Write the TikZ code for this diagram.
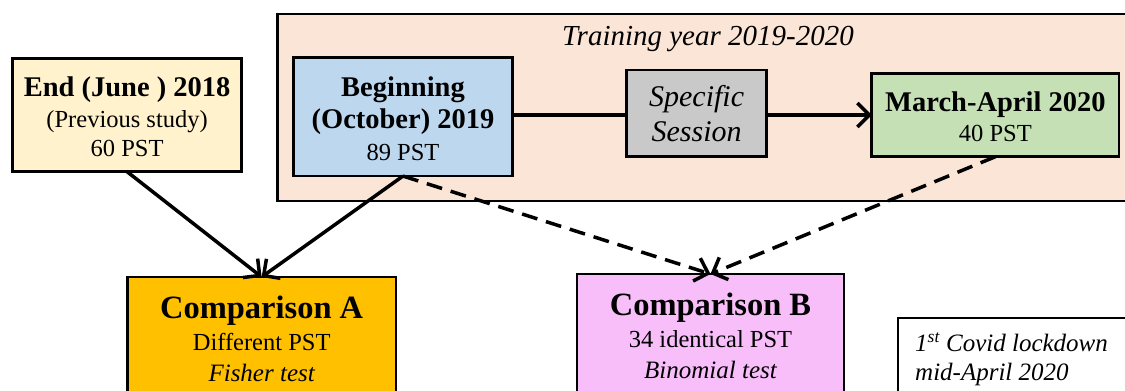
\documentclass[tikz,border=0pt]{standalone}
\usepackage{fontspec}
\setmainfont{Liberation Serif}
\newfontfamily\tms{Liberation Serif}
\usetikzlibrary{arrows.meta}
\definecolor{cyellow}{HTML}{FFF2CC}
\definecolor{cpeach}{HTML}{FBE5D6}
\definecolor{cblue}{HTML}{BDD7EE}
\definecolor{cgrey}{HTML}{C9C9C9}
\definecolor{cgreen}{HTML}{C5E0B4}
\definecolor{corange}{HTML}{FFC000}
\definecolor{cpink}{HTML}{F8BEFA}
\tikzset{
  box/.style={draw=black,line width=2.8pt,inner sep=0pt,outer sep=0pt},
  txt/.style={inner sep=0pt,anchor=base},
  txtl/.style={inner sep=0pt,anchor=base west},
  bt/.style={font=\tms\fontsize{28.5}{30}\selectfont\bfseries},
  rt/.style={font=\tms\fontsize{24.5}{26}\selectfont},
  it/.style={font=\tms\fontsize{25}{27}\selectfont\itshape},
  bigit/.style={font=\tms\fontsize{29}{31}\selectfont\itshape},
  sesit/.style={font=\tms\fontsize{30}{32}\selectfont\itshape},
  ct/.style={font=\tms\fontsize{32.5}{34}\selectfont\bfseries},
  conn/.style={line width=3.5pt,-{Straight Barb[length=12pt,width=24pt,line width=3.5pt]}},
  dconn/.style={conn,dash pattern=on 16pt off 9pt},
}
\begin{document}
\begin{tikzpicture}[x=1pt,y=-1pt]
\useasboundingbox (0,0) rectangle (1125,391);
\clip (0,0) rectangle (1125,391);
\fill[white] (0,0) rectangle (1125,391);
% boxes
\node[box,fill=cpeach,minimum width=857.3pt,minimum height=187pt] (peach) at (706.35,107.5) {};
\node[box,fill=cyellow,minimum width=229.2pt,minimum height=113.4pt] (yel) at (127.1,115) {};
\node[box,fill=cblue,minimum width=218.9pt,minimum height=118.7pt] (blue) at (403,116.7) {};
\node[box,fill=cgrey,minimum width=139.6pt,minimum height=86.7pt] (grey) at (696.6,113.35) {};
\node[box,fill=cgreen,minimum width=247.2pt,minimum height=83.4pt] (green) at (995.4,115) {};
\node[box,fill=corange,minimum width=268.7pt,minimum height=143pt] (compA) at (261.65,348.5) {};
\node[box,fill=cpink,minimum width=267pt,minimum height=146pt] (compB) at (710.5,347) {};
\node[box,fill=white,line width=2.2pt,minimum width=241.7pt,minimum height=102.3pt] (covid) at (1019,368.85) {};
% texts
\node[txtl,bigit] (ttrain) at (562,45.7) {Training year 2019-2020};
\node[txt,bt] (ty1) at (127.1,96.7) {End (June ) 2018};
\node[txt,rt] (ty2) at (127.1,127) {(Previous study)};
\node[txt,rt] (ty3) at (127.1,156.7) {60 PST};
\node[txt,bt] (tb1) at (403,96.7) {Beginning};
\node[txt,bt] (tb2) at (403,128.3) {(October) 2019};
\node[txt,rt] (tb3) at (403,160) {89 PST};
\node[txt,sesit] (tg1) at (696.6,106.7) {Specific};
\node[txt,sesit] (tg2) at (696.6,141.7) {Session};
\node[txt,bt] (tr1) at (995.4,111.7) {March-April 2020};
\node[txt,rt] (tr2) at (995.4,141.7) {40 PST};
\node[txt,ct] (ta1) at (261.65,318) {Comparison A};
\node[txt,rt] (ta2) at (261.65,350.7) {Different PST};
\node[txt,it] (ta3) at (261.65,381) {Fisher test};
\node[txt,ct] (tc1) at (710.5,315) {Comparison B};
\node[txt,rt] (tc2) at (710.5,347.7) {34 identical PST};
\node[txt,it] (tc3) at (710.5,378) {Binomial test};
\node[txtl,it] (tv1) at (915,351.7) {1\textsuperscript{st} Covid lockdown};
\node[txtl,it] (tv2) at (915,380) {mid-April 2020};
% connectors
\draw[line width=3.5pt] (blue.east |- 0,115) -- (grey.west |- 0,115);
\draw[conn] (grey.east |- 0,115) -- (green.west |- 0,115);
\draw[conn] (yel.south) -- (compA.north);
\draw[conn] (blue.south) -- (compA.north);
\draw[dconn] (blue.south) -- (compB.north);
\draw[dconn] (green.south) -- (compB.north);
\end{tikzpicture}
\end{document}
